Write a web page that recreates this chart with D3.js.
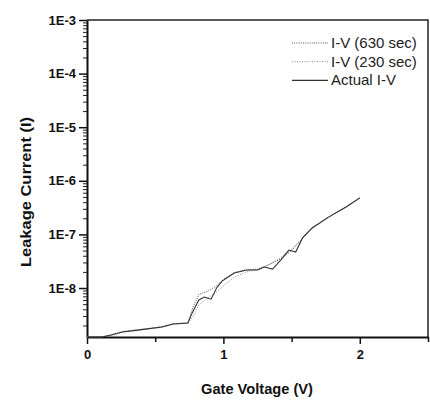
<!DOCTYPE html>
<html>
<head>
<meta charset="utf-8">
<script src="https://d3js.org/d3.v7.min.js"></script>
<style>
body { margin: 0; background: #fff; }
svg { display: block; font-family: "Liberation Sans", Arial, sans-serif; }
</style>
</head>
<body>
<svg id="chart" width="430" height="401"></svg>
<script>
// gate voltage points (V) and current (A)
const voltActual = [0, 0.11, 0.18, 0.26, 0.37, 0.55, 0.63, 0.74, 0.77, 0.82, 0.86, 0.91, 0.95, 0.99, 1.08, 1.17, 1.25, 1.30, 1.36, 1.42, 1.48, 1.53, 1.58, 1.65, 1.77, 1.90, 2.0];
const currActual = [1.22e-9, 1.22e-9, 1.33e-9, 1.51e-9, 1.64e-9, 1.87e-9, 2.13e-9, 2.22e-9, 3.4e-9, 6.0e-9, 6.8e-9, 6.2e-9, 1.0e-8, 1.35e-8, 1.9e-8, 2.17e-8, 2.17e-8, 2.47e-8, 2.26e-8, 3.33e-8, 5.1e-8, 4.7e-8, 8.6e-8, 1.32e-7, 2.1e-7, 3.25e-7, 4.8e-7];

const volt630 = [0, 0.11, 0.18, 0.26, 0.37, 0.55, 0.63, 0.74, 0.78, 0.82, 0.88, 0.95, 1.0, 1.08, 1.17, 1.25, 1.32, 1.42, 1.5, 1.58, 1.65, 1.77, 1.9, 2.0];
const curr630 = [1.22e-9, 1.22e-9, 1.35e-9, 1.55e-9, 1.66e-9, 1.9e-9, 2.15e-9, 2.25e-9, 4.6e-9, 7.6e-9, 8.6e-9, 1.1e-8, 1.45e-8, 1.95e-8, 2.2e-8, 2.25e-8, 2.6e-8, 3.5e-8, 5.0e-8, 8.4e-8, 1.3e-7, 2.1e-7, 3.3e-7, 4.8e-7];

const volt230 = [0, 0.11, 0.18, 0.26, 0.37, 0.55, 0.63, 0.74, 0.78, 0.82, 0.88, 0.95, 1.0, 1.08, 1.17, 1.25, 1.32, 1.42, 1.5, 1.58, 1.65, 1.77, 1.9, 2.0];
const curr230 = [1.22e-9, 1.24e-9, 1.33e-9, 1.5e-9, 1.62e-9, 1.85e-9, 2.1e-9, 2.2e-9, 3.0e-9, 4.9e-9, 6.4e-9, 8.4e-9, 1.1e-8, 1.6e-8, 2.0e-8, 2.2e-8, 2.65e-8, 3.7e-8, 5.4e-8, 8.3e-8, 1.3e-7, 2.05e-7, 3.3e-7, 4.8e-7];

const seriesNames = ["I-V (630 sec)", "I-V (230 sec)", "Actual I-V"];
const xTicks = [0, 1, 2];
const xMinorTicks = [0.5, 1.5, 2.5];
const yTickLabels = ["1E-8", "1E-7", "1E-6", "1E-5", "1E-4", "1E-3"];

const svg = d3.select("#chart");
const margin = {top: 20, right: 2, bottom: 64, left: 87};
const W = 430, H = 401;

const x = d3.scaleLinear().domain([0, 2.5]).range([margin.left, W - margin.right]);
const y = d3.scaleLog().domain([1.22e-9, 1e-3]).range([H - margin.bottom, margin.top]);

// frame (top + right)
svg.append("path")
  .attr("d", `M${x(0)},${y(1e-3)}H${x(2.5)}V${y(1.22e-9)}`)
  .attr("fill", "none").attr("stroke", "#222").attr("stroke-width", 1.5);

// y axis, decade ticks + minor ticks
const decades = yTickLabels.map(s => +s);
const minor = [];
for (let e = -10; e < -3; e++) {
  for (let k = 2; k <= 9; k++) {
    const v = k * Math.pow(10, e);
    if (v > 1.22e-9 && v < 1e-3) minor.push(v);
  }
}
svg.append("g")
  .attr("transform", `translate(${margin.left},0)`)
  .call(d3.axisLeft(y).tickValues(minor).tickSize(4).tickFormat(""))
  .call(g => g.select(".domain").remove())
  .call(g => g.selectAll("line").attr("stroke", "#222").attr("stroke-width", 1));

svg.append("g")
  .attr("transform", `translate(${margin.left},0)`)
  .call(d3.axisLeft(y).tickValues(decades).tickSize(8).tickSizeOuter(0).tickPadding(3)
    .tickFormat((d, i) => yTickLabels[i]))
  .call(g => g.select(".domain").attr("stroke", "#111").attr("stroke-width", 2))
  .call(g => g.selectAll("line").attr("stroke", "#111").attr("stroke-width", 1.5))
  .call(g => g.selectAll("text").attr("font-size", 13).attr("font-weight", "bold")
    .attr("fill", "#111").attr("font-family", "Liberation Sans, Arial, sans-serif"));

// x axis
svg.append("g")
  .attr("transform", `translate(0,${y(1.22e-9)})`)
  .call(d3.axisBottom(x).tickValues(xMinorTicks).tickSize(5).tickSizeOuter(0).tickFormat(""))
  .call(g => g.select(".domain").remove())
  .call(g => g.selectAll("line").attr("stroke", "#111").attr("stroke-width", 1.5));

svg.append("g")
  .attr("transform", `translate(0,${y(1.22e-9)})`)
  .call(d3.axisBottom(x).tickValues(xTicks).tickSize(7).tickSizeOuter(0).tickPadding(6)
    .tickFormat(d3.format("d")))
  .call(g => g.select(".domain").attr("stroke", "#111").attr("stroke-width", 2))
  .call(g => g.selectAll("line").attr("stroke", "#111").attr("stroke-width", 1.5))
  .call(g => g.selectAll("text").attr("font-size", 13).attr("font-weight", "bold")
    .attr("fill", "#111").attr("font-family", "Liberation Sans, Arial, sans-serif"));

// axis titles
svg.append("text")
  .attr("x", 257).attr("y", 394)
  .attr("text-anchor", "middle")
  .attr("font-size", 15).attr("font-weight", "bold").attr("fill", "#111")
  .attr("textLength", 112).attr("lengthAdjust", "spacingAndGlyphs")
  .text("Gate Voltage (V)");

svg.append("text")
  .attr("transform", "translate(31,192) rotate(-90)")
  .attr("text-anchor", "middle")
  .attr("font-size", 15).attr("font-weight", "bold").attr("fill", "#111")
  .attr("textLength", 150).attr("lengthAdjust", "spacingAndGlyphs")
  .text("Leakage Current (I)");

// curves
const line = d3.line().x(d => x(d[0])).y(d => y(d[1]));
const styles = [
  {v: volt630, c: curr630, stroke: "#555", width: 1, dash: "1,1.2"},
  {v: volt230, c: curr230, stroke: "#888", width: 1, dash: "1,1.5"},
  {v: voltActual, c: currActual, stroke: "#333", width: 1.1, dash: null}
];
styles.forEach(s => {
  svg.append("path")
    .datum(d3.zip(s.v, s.c))
    .attr("d", line)
    .attr("fill", "none")
    .attr("stroke", s.stroke)
    .attr("stroke-width", s.width)
    .attr("stroke-dasharray", s.dash);
});

// legend
const leg = svg.append("g");
seriesNames.forEach((name, i) => {
  const cy = 43 + i * 18.7;
  leg.append("line")
    .attr("x1", 292).attr("x2", 328).attr("y1", cy).attr("y2", cy)
    .attr("stroke", styles[i].stroke).attr("stroke-width", styles[i].width)
    .attr("stroke-dasharray", styles[i].dash);
  leg.append("text")
    .attr("x", 331).attr("y", cy + 5)
    .attr("font-size", 15).attr("fill", "#222")
    .text(name);
});
</script>
</body>
</html>
